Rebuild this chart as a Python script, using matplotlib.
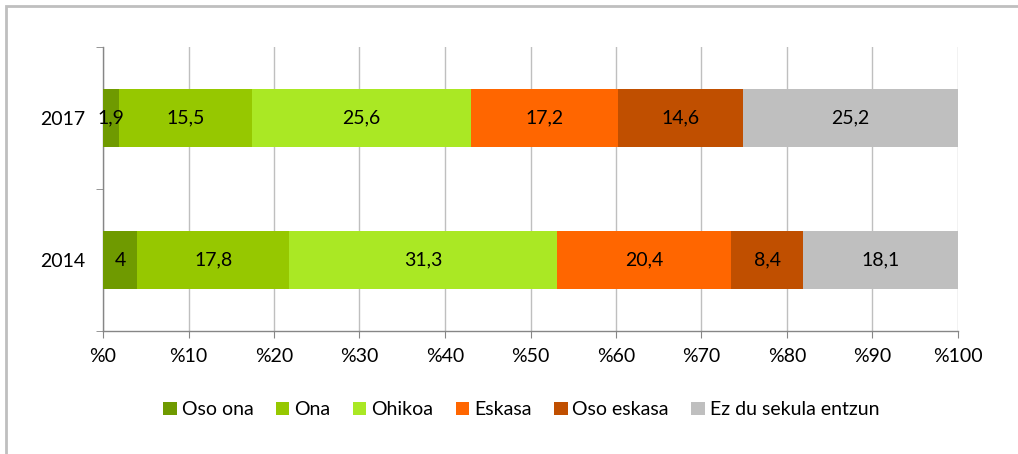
import numpy as np
import matplotlib.pyplot as plt
from matplotlib.patches import Rectangle

plt.rcParams['font.family'] = ['Lato', 'DejaVu Sans']

# categories (bottom to top) and series values
years = ["2014", "2017"]
labels = ["Oso ona", "Ona", "Ohikoa", "Eskasa", "Oso eskasa", "Ez du sekula entzun"]
oso_ona = [4, 1.9]
ona = [17.8, 15.5]
ohikoa = [31.3, 25.6]
eskasa = [20.4, 17.2]
oso_eskasa = [8.4, 14.6]
ez_du = [18.1, 25.2]
colors = ["#6F9A00", "#96C800", "#AAE824", "#FF6600", "#C04F00", "#BFBFBF"]
xticks = list(range(0, 101, 10))
xtick_labels = ["%" + str(t) for t in xticks]

series = [oso_ona, ona, ohikoa, eskasa, oso_eskasa, ez_du]
fs = 14

fig = plt.figure(figsize=(10.18, 4.54), dpi=100)
ax = fig.add_axes([103 / 1018, 1 - 331 / 454, (958 - 103) / 1018, (331 - 47) / 454])

y = np.arange(len(years))
left = np.zeros(len(years))
for vals, lab, col in zip(series, labels, colors):
    ax.barh(y, vals, left=left, height=0.41, color=col, label=lab, zorder=3)
    for i, v in enumerate(vals):
        txt = ("%g" % v).replace(".", ",")
        ax.text(left[i] + v / 2, y[i], txt, ha="center", va="center",
                fontsize=fs, color="black", zorder=4)
    left += np.array(vals)

ax.set_xlim(0, 100)
ax.set_ylim(-0.5, 1.5)
ax.set_xticks(xticks)
ax.set_xticklabels(xtick_labels, fontsize=fs)
ax.set_yticks(y)
ax.set_yticklabels(years, fontsize=fs)
ax.set_yticks([-0.5, 0.5, 1.5], minor=True)
ax.tick_params(axis="y", which="major", length=0, pad=13)
ax.tick_params(axis="y", which="minor", length=5, color="#868686")
ax.tick_params(axis="x", length=5, color="#868686", pad=7)
ax.grid(axis="x", color="#BFBFBF", linewidth=1, zorder=0)
for s in ["top", "right"]:
    ax.spines[s].set_visible(False)
for s in ["left", "bottom"]:
    ax.spines[s].set_color("#868686")
    ax.spines[s].set_linewidth(1)

fig.legend(loc="lower center", bbox_to_anchor=(0.512, 0.04), ncol=6, frameon=False,
           fontsize=fs, handlelength=0.7, handleheight=0.7, handletextpad=0.25,
           columnspacing=1.15)

fig.patches.append(Rectangle((6 / 1018, -0.1), 1.2, 1 - 6 / 454 + 0.1,
                             transform=fig.transFigure, fill=False,
                             edgecolor="#BFBFBF", linewidth=2))

fig.savefig("out.png", dpi=100)
